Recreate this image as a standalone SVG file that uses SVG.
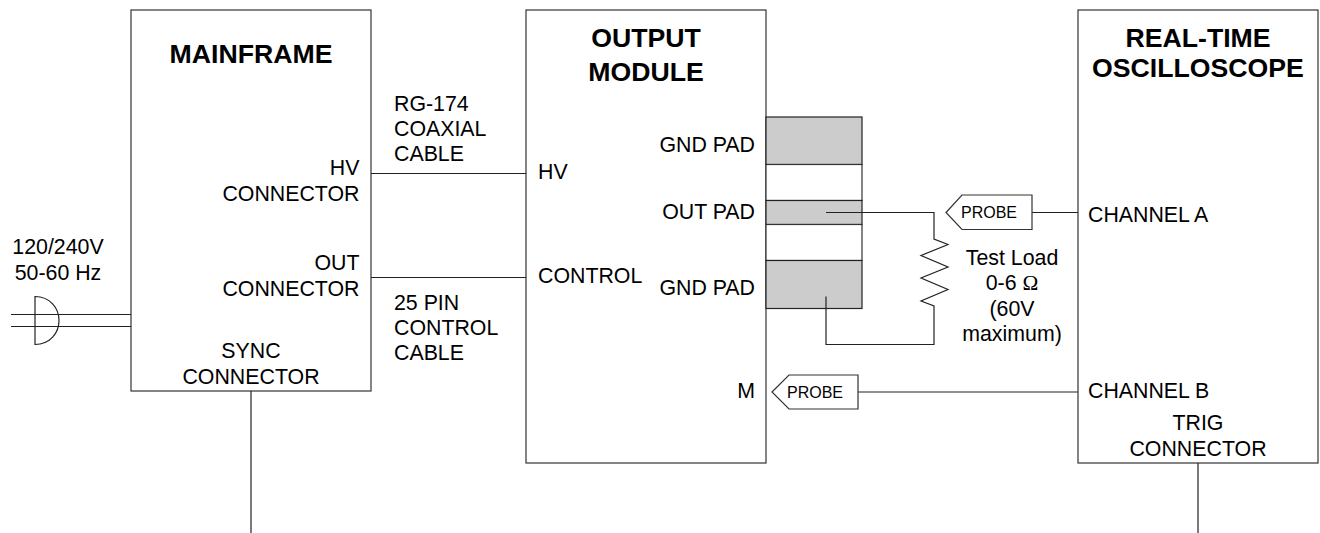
<svg xmlns="http://www.w3.org/2000/svg" width="1320" height="533" viewBox="0 0 1320 533">
<style>
text{font-family:"Liberation Sans",Arial,sans-serif;font-size:21.33px;fill:#000}
.t{font-size:26.67px;font-weight:bold}
.s{font-size:16px}
.m{text-anchor:middle}
.e{text-anchor:end}
.b{fill:#fff;stroke:#333;stroke-width:1.2}
.p{fill:#ccc;stroke:#222;stroke-width:1.2}
.l{fill:none;stroke:#222;stroke-width:1.2}
</style>
<rect width="1320" height="533" fill="#fff"/>
<g id="mainframe"><rect class="b" x="131" y="10" width="240" height="381"/>
<text class="t m" x="251" y="63">MAINFRAME</text>
<text class="e" x="359.500" y="175">HV</text><text class="e" x="359.500" y="200.500">CONNECTOR</text>
<text class="e" x="359.500" y="270">OUT</text><text class="e" x="359.500" y="295.500">CONNECTOR</text>
<text class="m" x="251" y="358">SYNC</text><text class="m" x="251" y="384">CONNECTOR</text></g>
<g id="output-module"><rect class="b" x="526" y="10" width="240" height="453"/>
<text class="t m" x="646" y="47">OUTPUT</text><text class="t m" x="646" y="81">MODULE</text>
<text x="538" y="179">HV</text><text x="538" y="283">CONTROL</text>
<text class="e" x="755" y="152">GND PAD</text><text class="e" x="755" y="219">OUT PAD</text><text class="e" x="755" y="295">GND PAD</text><text class="e" x="755" y="398">M</text></g>
<g id="oscilloscope"><rect class="b" x="1078" y="10" width="240" height="453"/>
<text class="t m" x="1198" y="47">REAL-TIME</text><text class="t m" x="1198" y="77">OSCILLOSCOPE</text>
<text x="1088" y="222">CHANNEL A</text><text x="1088" y="397.500">CHANNEL B</text>
<text class="m" x="1198" y="430">TRIG</text><text class="m" x="1198" y="456">CONNECTOR</text></g>
<g id="pads"><rect class="p" x="766" y="117" width="96" height="47.500"/><rect class="b" x="766" y="164.500" width="96" height="36"/><rect class="p" x="766" y="200.500" width="96" height="24"/><rect class="b" x="766" y="224.500" width="96" height="36"/><rect class="p" x="766" y="260.500" width="96" height="48"/></g>
<g id="connectors">
<path class="l" d="M371 173.500H526M371 277.500H526M251 391V533M1198 463V533M1032 212.500H1078M858 392H1078"/>
<path class="l" d="M826 212.500H934V239L948 244.500 921 255.500 948 267 921 278 948 289.500 921 301 934 306V344.500H826V296.500"/>
<path class="l" d="M11 314.500H131M11 326.500H131M35 296.500V344.500C50 344.500 59 333 59 320.500S50 296.500 35 296.500Z"/>
</g>
<g id="probe-a"><path class="b" d="M946 212.500L962 195H1032V229.500H962Z"/><text class="s" x="961" y="218">PROBE</text></g>
<g id="probe-b"><path class="b" d="M772 392L789 375H858V409H789Z"/><text class="s" x="787" y="397.500">PROBE</text></g>
<g id="labels">
<text x="394" y="111">RG-174</text><text x="394" y="136">COAXIAL</text><text x="394" y="161">CABLE</text>
<text x="394" y="310">25 PIN</text><text x="394" y="335">CONTROL</text><text x="394" y="360">CABLE</text>
<text class="m" x="58" y="253.500">120/240V</text><text class="m" x="58" y="279.500">50-60 Hz</text>
<text class="m" x="1012" y="265">Test Load</text><text class="m" x="1012" y="290">0-6 <tspan font-family="Liberation Serif">Ω</tspan></text><text class="m" x="1012" y="316">(60V</text><text class="m" x="1012" y="341">maximum)</text>
</g>
</svg>
